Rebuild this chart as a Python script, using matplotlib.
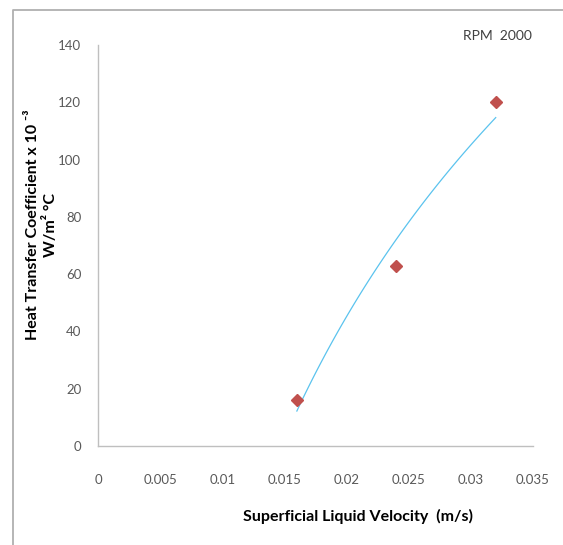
import numpy as np
import matplotlib
matplotlib.use('Agg')
import matplotlib.pyplot as plt
from matplotlib.lines import Line2D

# data
velocity = [0.016, 0.024, 0.032]
htc = [16, 63, 120]
x_ticks = [0, 0.005, 0.01, 0.015, 0.02, 0.025, 0.03, 0.035]
x_labels = ['0', '0.005', '0.01', '0.015', '0.02', '0.025', '0.03', '0.035']
y_ticks = [0, 20, 40, 60, 80, 100, 120, 140]

plt.rcParams['font.family'] = ['Lato', 'DejaVu Sans']
W, H = 563, 545
dpi = 100
fig = plt.figure(figsize=(W/dpi, H/dpi), dpi=dpi)
ax = fig.add_axes([98/W, 1-446/H, (533-98)/W, (446-45)/H])

# logarithmic trendline, like the spreadsheet one
a, b = np.polyfit(np.log(velocity), htc, 1)
xs = np.linspace(velocity[0], velocity[-1], 100)
ax.plot(xs, a*np.log(xs) + b, color='#5BC3EE', lw=0.9, zorder=2)
ax.plot(velocity, htc, linestyle='none', marker='D', markersize=6.5,
        color='#C0504D', markeredgecolor='#C0504D', zorder=3)

ax.set_xlim(0, 0.035)
ax.set_ylim(0, 140)
ax.set_xticks(x_ticks)
ax.set_xticklabels(x_labels)
ax.set_yticks(y_ticks)
for s in ['top', 'right']:
    ax.spines[s].set_visible(False)
for s in ['left', 'bottom']:
    ax.spines[s].set_color('#BFBFBF')
    ax.spines[s].set_linewidth(1)
ax.tick_params(axis='both', length=0, labelsize=9.5, labelcolor='#595959')
ax.tick_params(axis='x', pad=20)
ax.tick_params(axis='y', pad=12)

fig.text(358/W, 1-516/H, 'Superficial Liquid Velocity  (m/s)', ha='center', va='center',
         fontsize=11.5, fontweight='bold', color='#000000')
fig.text(42/W, 1-225/H, 'Heat Transfer Coefficient x 10 \u207b\u00b3\nW/m\u00b2 \u00b0C',
         ha='center', va='center', rotation=90, fontsize=11.5, fontweight='bold',
         linespacing=1.2, multialignment='center')
fig.text(497/W, 1-36/H, 'RPM  2000', ha='center', va='center', fontsize=10, color='#404040')

# outer frame (left and top edges only visible)
fig.add_artist(Line2D([13/W, 13/W, 1], [0, 1-10/H, 1-10/H], transform=fig.transFigure,
                      color='#B0B0B0', lw=1.3))

fig.savefig('out.png', dpi=dpi, facecolor='white')
